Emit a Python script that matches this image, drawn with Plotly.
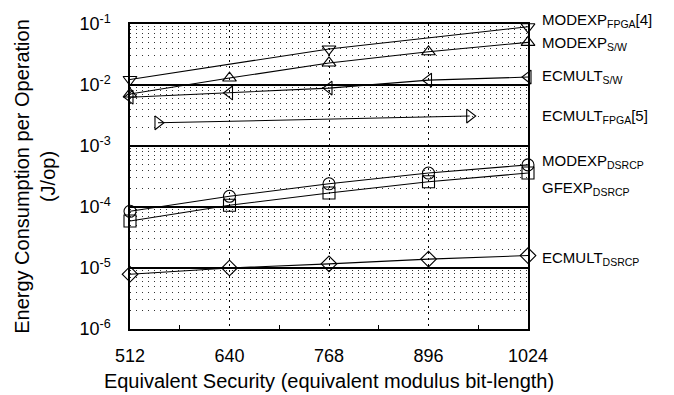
import plotly.graph_objects as go

x_bits = [512, 640, 768, 896, 1024]
x_fpga4 = [512, 768, 1024]
modexp_fpga4 = [0.0123, 0.039, 0.09]
modexp_sw = [0.0071, 0.013, 0.023, 0.035, 0.050]
ecmult_sw = [0.0063, 0.0074, 0.0089, 0.012, 0.0135]
x_fpga5 = [548, 949]
ecmult_fpga5 = [0.0024, 0.0031]
modexp_dsrcp = [8.5e-5, 1.5e-4, 2.4e-4, 3.6e-4, 4.9e-4]
gfexp_dsrcp = [5.9e-5, 1.07e-4, 1.7e-4, 2.6e-4, 3.6e-4]
ecmult_dsrcp = [7.9e-6, 1.0e-5, 1.17e-5, 1.4e-5, 1.6e-5]

x_ticks = [512, 640, 768, 896, 1024]
x_minor = [576, 704, 832, 960]
y_ticks = [1e-6, 1e-5, 1e-4, 1e-3, 1e-2, 1e-1]
y_ticktext = ["10<sup>-6</sup>", "10<sup>-5</sup>", "10<sup>-4</sup>", "10<sup>-3</sup>",
              "10<sup>-2</sup>", "10<sup>-1</sup>"]
labels = ["MODEXP<sub>FPGA</sub>[4]", "MODEXP<sub>S/W</sub>", "ECMULT<sub>S/W</sub>",
          "ECMULT<sub>FPGA</sub>[5]", "MODEXP<sub>DSRCP</sub>", "GFEXP<sub>DSRCP</sub>",
          "ECMULT<sub>DSRCP</sub>"]
label_px = [21, 43, 76, 116, 161, 188, 258]

series = [
    (x_fpga4, modexp_fpga4, "triangle-down-open"),
    (x_bits, modexp_sw, "triangle-up-open"),
    (x_bits, ecmult_sw, "triangle-left-open"),
    (x_fpga5, ecmult_fpga5, "triangle-right-open"),
    (x_bits, modexp_dsrcp, "circle-open"),
    (x_bits, gfexp_dsrcp, "square-open"),
    (x_bits, ecmult_dsrcp, "diamond-open"),
]

fig = go.Figure()
for xs, ys, sym in series:
    fig.add_trace(go.Scatter(
        x=xs, y=ys, mode="lines+markers",
        line=dict(color="black", width=1.1),
        marker=dict(symbol=sym, size=12, color="black", line=dict(width=1.1, color="black")),
        showlegend=False, cliponaxis=False))

minor_y = [k * 10.0 ** e for e in range(-6, -1) for k in range(2, 10)]

font = "Liberation Sans, Arial, sans-serif"
fig.update_layout(
    width=674, height=395,
    margin=dict(l=130, r=146, t=24, b=66),
    paper_bgcolor="white", plot_bgcolor="white",
    font=dict(family=font, size=18, color="black"),
    xaxis=dict(
        range=[512, 1024], tickvals=x_ticks, ticktext=[str(v) for v in x_ticks],
        showgrid=True, gridcolor="black", gridwidth=1, griddash="2px,4px",
        showline=True, linecolor="black", linewidth=1.5, mirror=True,
        ticks="", zeroline=False, automargin=False, ticklabelstandoff=10,
        title=dict(text="Equivalent Security (equivalent modulus bit-length)", standoff=9,
                   font=dict(size=20)),
        minor=dict(tickvals=x_minor, ticks="inside", ticklen=4, tickcolor="black",
                   showgrid=False),
        tickfont=dict(size=18),
    ),
    yaxis=dict(
        type="log", range=[-6, -1], tickvals=y_ticks, ticktext=y_ticktext,
        showgrid=True, gridcolor="black", gridwidth=1.5,
        showline=True, linecolor="black", linewidth=1.5, mirror=True,
        ticks="", zeroline=False, automargin=False, ticklabelstandoff=14,
        minor=dict(tickvals=minor_y, showgrid=True, gridcolor="#333333",
                   griddash="1px,5px", gridwidth=1, ticks=""),
        title=dict(text="Energy Consumption per Operation<br>(J/op)", standoff=18,
                   font=dict(size=20)),
        tickfont=dict(size=18),
    ),
)

for txt, py in zip(labels, label_px):
    fig.add_annotation(
        text=txt, xref="paper", yref="paper", x=1, y=(329 - py) / 305,
        xanchor="left", yanchor="middle", xshift=12, showarrow=False,
        font=dict(size=15, family=font, color="black"))

fig.write_html("out.html", config={"displayModeBar": False},
               post_script="document.body.style.margin='0';")
